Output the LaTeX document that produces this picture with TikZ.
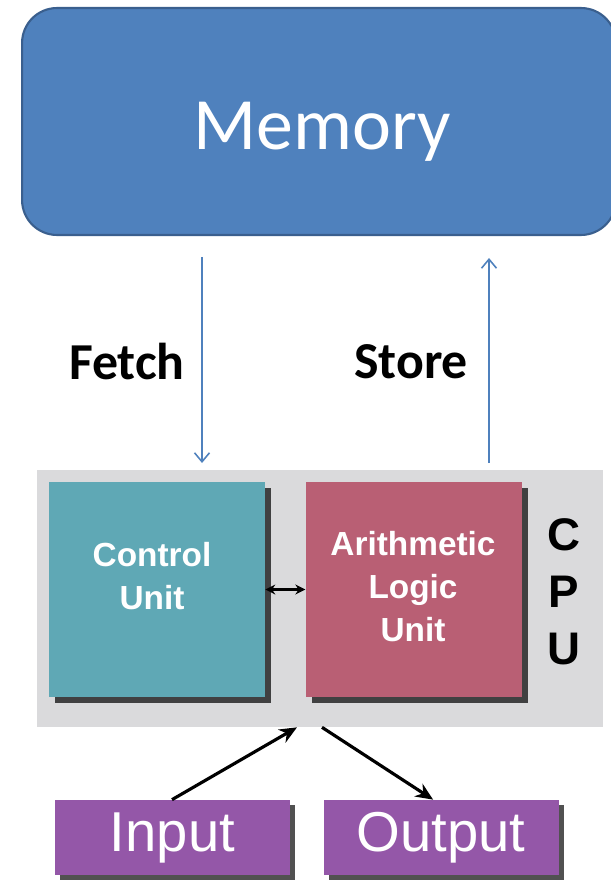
\documentclass[tikz,border=0pt]{standalone}
\usepackage{fontspec}
\setmainfont{Carlito}
\newfontfamily\arialfont{Liberation Sans}
\usetikzlibrary{positioning, shadows, arrows.meta}

\definecolor{membg}{HTML}{4F81BD}
\definecolor{memline}{HTML}{3A5F8E}
\definecolor{cpubg}{HTML}{DADADC}
\definecolor{cubg}{HTML}{5FA8B5}
\definecolor{alubg}{HTML}{B95F74}
\definecolor{iobg}{HTML}{9457A8}

\begin{document}
\begin{tikzpicture}[x=0.02cm,y=-0.02cm,
                    unit/.style={rectangle,fill=#1,minimum width=4.32cm,minimum height=4.3cm,
                      drop shadow={shadow xshift=0.12cm,shadow yshift=-0.12cm,opacity=0.85,fill=black!85}},
                    unittext/.style={text=white,align=center,
                      font=\arialfont\bfseries\fontsize{19}{24.5}\selectfont},
                    io/.style={rectangle,fill=iobg,minimum width=4.7cm,minimum height=1.5cm,
                      text=white,font=\arialfont\fontsize{32}{34}\selectfont,
                      drop shadow={shadow xshift=0.1cm,shadow yshift=-0.1cm,opacity=0.85,fill=black!80}},
                    bus/.style={draw=membg,line width=0.9pt,-{Straight Barb[length=0.18cm,width=0.3cm]}},
                    label/.style={font=\bfseries\fontsize{29.5}{31}\selectfont}]

  \useasboundingbox (0,0) rectangle (610,888);

  % memory
  \node[rectangle,rounded corners=0.7cm,fill=membg,draw=memline,line width=1.2pt,
        minimum width=11.88cm,minimum height=4.54cm] (mem) at (319,121.5) {};
  \node[anchor=base,text=white,font=\fontsize{42}{44}\selectfont] (memlbl) at (322,150) {Memory};

  % cpu
  \node[rectangle,fill=cpubg,minimum width=11.32cm,minimum height=5.14cm] (cpu) at (320,598.5) {};
  \node[unit=cubg] (cu) at (157,589.5) {};
  \node[unit=alubg] (alu) [right=0.8cm of cu] {};
  \node[unittext] (cutxt) at (152,576.5) {Control\\Unit};
  \node[unittext] (alutxt) at (413,586.5) {Arithmetic\\Logic\\Unit};
  \node[align=center,font=\arialfont\bfseries\fontsize{26}{32.5}\selectfont] (cpulbl) at (564,592) {C\\P\\U};

  \draw[line width=1.5pt,{Stealth[length=0.2cm,width=0.2cm]}-{Stealth[length=0.2cm,width=0.2cm]}] (cu.east) -- (alu.west);

  % input / output
  \node[io] (inp) at (172.5,837.5) {Input};
  \node[io] (outp) [right=0.66cm of inp] {Output};

  \draw[line width=1.8pt,-{Stealth[length=0.35cm,width=0.3cm]}] ([xshift=-0.01cm]inp.north) -- ([xshift=-0.46cm]cpu.south);
  \draw[line width=1.8pt,-{Stealth[length=0.35cm,width=0.3cm]}] ([xshift=0.04cm]cpu.south) -- ([xshift=-0.16cm]outp.north);

  % fetch / store
  \coordinate (fa) at (202,257);
  \coordinate (fb) at (202,463);
  \coordinate (sa) at (489,463);
  \coordinate (sb) at (489,258);
  \draw[bus] (fa) -- (fb);
  \draw[bus] (sa) -- (sb);

  \node[label] (fetch) at (127,362) {Fetch};
  \node[label] (store) at (411,362) {Store};
\end{tikzpicture}
\end{document}
